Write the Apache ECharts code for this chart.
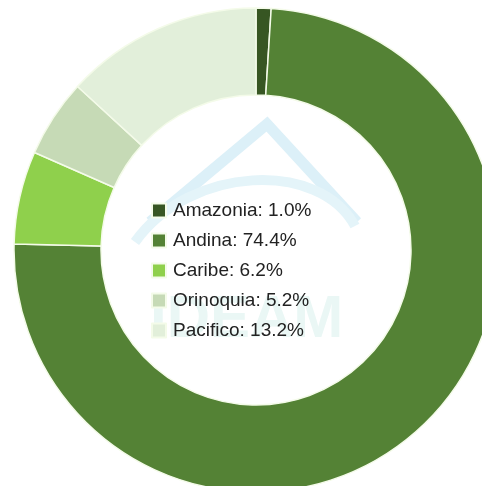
<!DOCTYPE html>
<html>
<head>
<meta charset="utf-8">
<script src="https://cdn.jsdelivr.net/npm/echarts@6/dist/echarts.min.js"></script>
<style>
  html, body { margin: 0; padding: 0; background: #ffffff; }
  #chart { width: 482px; height: 486px; }
</style>
</head>
<body>
<div id="chart"></div>
<script>
// Share of the total by natural region (percent)
const regions = ['Amazonia', 'Andina', 'Caribe', 'Orinoquia', 'Pacifico'];
const shares = [1.0, 74.4, 6.2, 5.2, 13.2];
const regionColors = ['#375623', '#548235', '#8fd04c', '#c6dab6', '#e2efda'];

const chart = echarts.init(document.getElementById('chart'), null, { renderer: 'canvas' });

const pieData = regions.map((name, i) => ({
  name: name,
  value: shares[i],
  itemStyle: { color: regionColors[i] }
}));

const shareByName = {};
regions.forEach((name, i) => { shareByName[name] = shares[i]; });

chart.setOption({
  animation: false,
  backgroundColor: '#ffffff',
  graphic: [
    // faint IDEAM watermark behind the legend
    {
      type: 'polyline',
      z: 0,
      shape: { points: [[150, 222], [267, 124], [357, 222]] },
      style: { stroke: '#dcf0f8', lineWidth: 11, fill: null, lineJoin: 'miter' }
    },
    {
      type: 'bezierCurve',
      z: 0,
      shape: { x1: 135, y1: 242, x2: 355, y2: 226, cpx1: 190, cpy1: 165, cpx2: 320, cpy2: 160 },
      style: { stroke: '#e4f4f9', lineWidth: 10, fill: null }
    },
    {
      type: 'text',
      z: 0,
      left: 150,
      top: 290,
      style: {
        text: 'IDEAM',
        font: 'bold 60px "Liberation Sans", Arial, sans-serif',
        fill: '#eaf7f5'
      }
    }
  ],
  legend: {
    orient: 'vertical',
    left: 146,
    top: 196,
    icon: 'rect',
    itemWidth: 14,
    itemHeight: 14,
    itemGap: 11,
    data: regions,
    formatter: name => name + ': ' + shareByName[name].toFixed(1) + '%',
    textStyle: {
      fontFamily: '"Liberation Sans", Arial, sans-serif',
      fontSize: 19,
      color: '#222222',
      padding: [0, 0, 0, 2]
    }
  },
  series: [{
    type: 'pie',
    center: [256, 250],
    radius: [155, 242],
    startAngle: 90,
    clockwise: true,
    avoidLabelOverlap: false,
    label: { show: false },
    labelLine: { show: false },
    itemStyle: { borderColor: '#f4fbe9', borderWidth: 1.5 },
    emphasis: { disabled: true },
    data: pieData
  }]
});
</script>
</body>
</html>
